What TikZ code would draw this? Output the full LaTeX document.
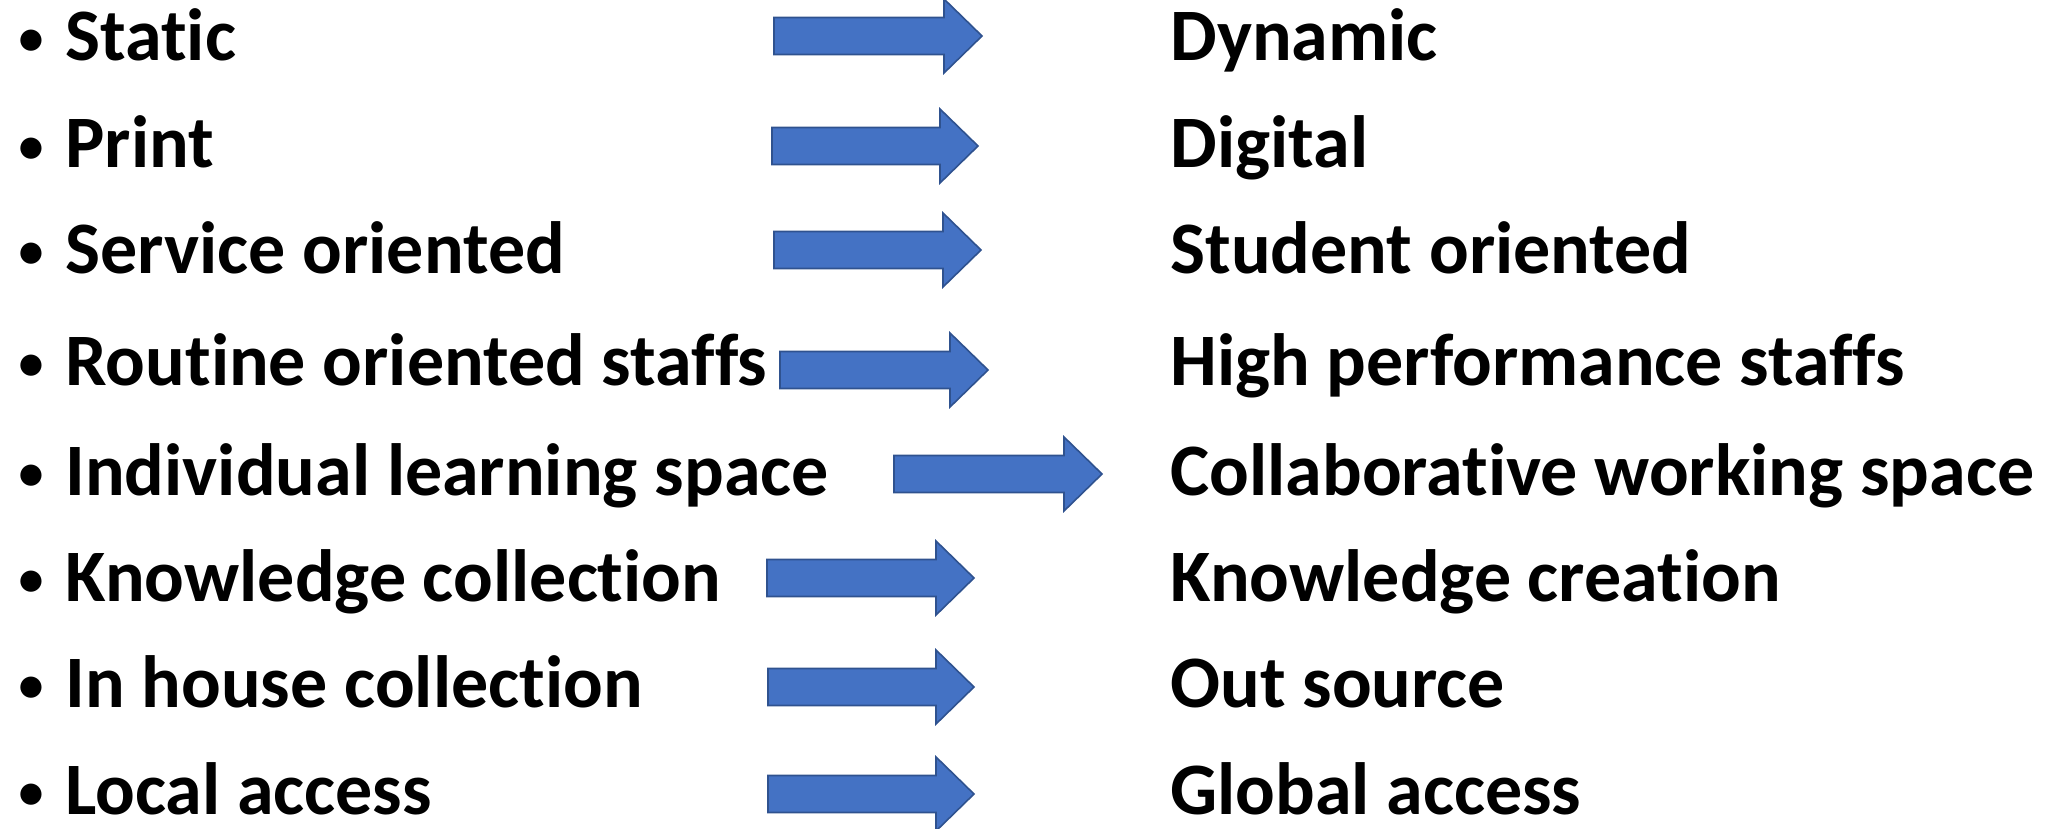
\documentclass[tikz,border=0pt]{standalone}
\usepackage{fontspec}
\setmainfont[Ligatures={NoCommon}]{Carlito}
\definecolor{arrowfill}{HTML}{4472C4}
\definecolor{arrowline}{HTML}{2F528F}
\begin{document}
\begin{tikzpicture}[x=0.5pt,y=-0.5pt,
  lbl/.style={anchor=base west,inner sep=0pt,font=\fontsize{37}{44}\selectfont\bfseries},
  bul/.style={anchor=base west,inner sep=0pt,font=\fontsize{30}{36}\selectfont},
  bigarrow/.style={fill=arrowfill,draw=arrowline,line width=0.8pt,line join=miter}]
\useasboundingbox (0,0) rectangle (2050,829);
\foreach \i/\yb/\lt/\rt in {1/61/Static/Dynamic, 2/168/Print/Digital, 3/273/Service oriented/Student oriented, 4/385/Routine oriented staffs/High performance staffs, 5/495/Individual learning space/Collaborative working space, 6/601/Knowledge collection/Knowledge creation, 7/707/In house collection/Out source, 8/814/Local access/Global access}{
  \node[bul] (b\i) at (16,\yb-3) {\textbullet};
  \node[lbl] (l\i) at (65,\yb) {\lt};
  \node[lbl] (r\i) at (1170,\yb) {\rt};
}
\foreach \i/\xa/\xt/\yc in {1/774/982/36, 2/772/978/146, 3/774/981/250, 4/780/988/370, 5/894/1102/474, 6/767/974/578, 7/768/974/687, 8/768/974/794}{
  \draw[bigarrow] (\xa,\yc-18.5) -- (\xt-38,\yc-18.5) -- (\xt-38,\yc-37) -- (\xt,\yc) -- (\xt-38,\yc+37) -- (\xt-38,\yc+18.5) -- (\xa,\yc+18.5) -- cycle;
}
\end{tikzpicture}
\end{document}
